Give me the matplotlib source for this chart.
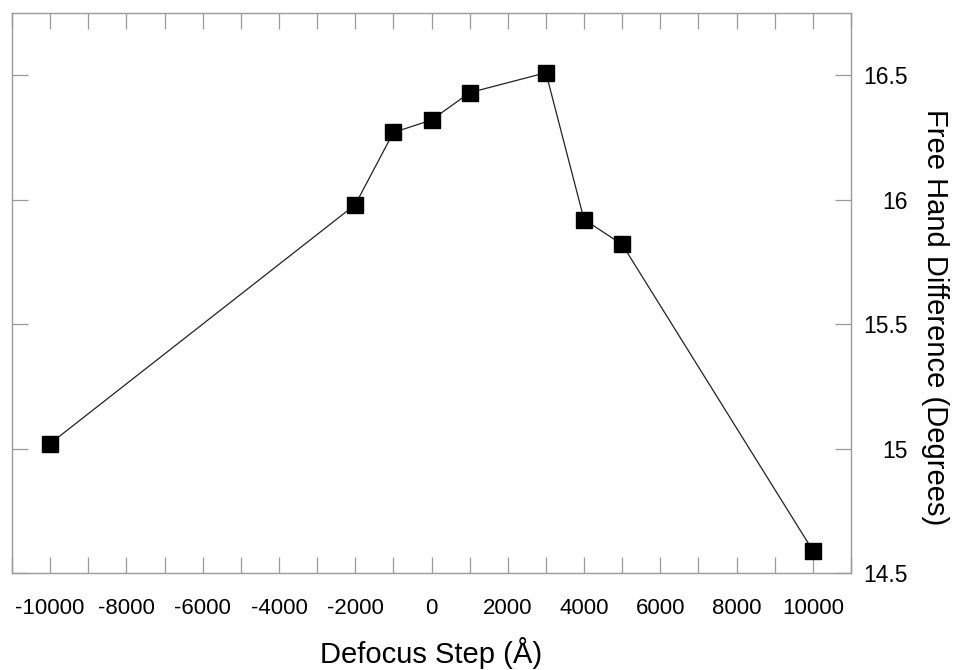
import numpy as np
import matplotlib.pyplot as plt
from matplotlib.ticker import MultipleLocator, FuncFormatter

# Defocus step vs free hand difference
defocus = [-10000, -2000, -1000, 0, 1000, 3000, 4000, 5000, 10000]
hand_diff = [15.02, 15.98, 16.27, 16.32, 16.43, 16.51, 15.92, 15.82, 14.59]

plt.rcParams['font.family'] = ['Liberation Sans', 'DejaVu Sans']
plt.rcParams['axes.unicode_minus'] = False

fig = plt.figure(figsize=(9.55, 6.7), dpi=100)
ax = fig.add_axes([0.0126, 0.1448, 0.8785, 0.8358])

ax.plot(defocus, hand_diff, color='#222222', linewidth=0.9,
        marker='s', markersize=11, markerfacecolor='black', markeredgecolor='black')

ax.set_xlim(-11000, 11000)
ax.set_ylim(14.5, 16.75)

ax.xaxis.set_major_locator(MultipleLocator(2000))
ax.xaxis.set_minor_locator(MultipleLocator(1000))
ax.yaxis.set_major_locator(MultipleLocator(0.5))
ax.xaxis.set_major_formatter(FuncFormatter(lambda v, p: '%d' % v))
ax.yaxis.set_major_formatter(FuncFormatter(lambda v, p: '%g' % v))

ax.yaxis.tick_right()
ax.tick_params(axis='both', which='both', direction='in', length=11.5, width=0.9,
               color='#999999', top=True, left=True, right=True, bottom=True)
ax.tick_params(axis='x', which='major', pad=18, labelsize=16)
ax.tick_params(axis='y', which='major', pad=41, labelsize=16.5)
ax.tick_params(axis='x', which='minor', labelbottom=False)
for lab in ax.get_yticklabels():
    lab.set_ha('right')

for s in ax.spines.values():
    s.set_color('#999999')
    s.set_linewidth(1.0)

ax.set_xlabel('Defocus Step (Å)', fontsize=21, labelpad=13)
ax.yaxis.set_label_position('right')
ax.set_ylabel('Free Hand Difference (Degrees)', fontsize=21, rotation=270, va='center')
ax.yaxis.set_label_coords(1.100, 0.457)

fig.savefig('out.png', dpi=100)
